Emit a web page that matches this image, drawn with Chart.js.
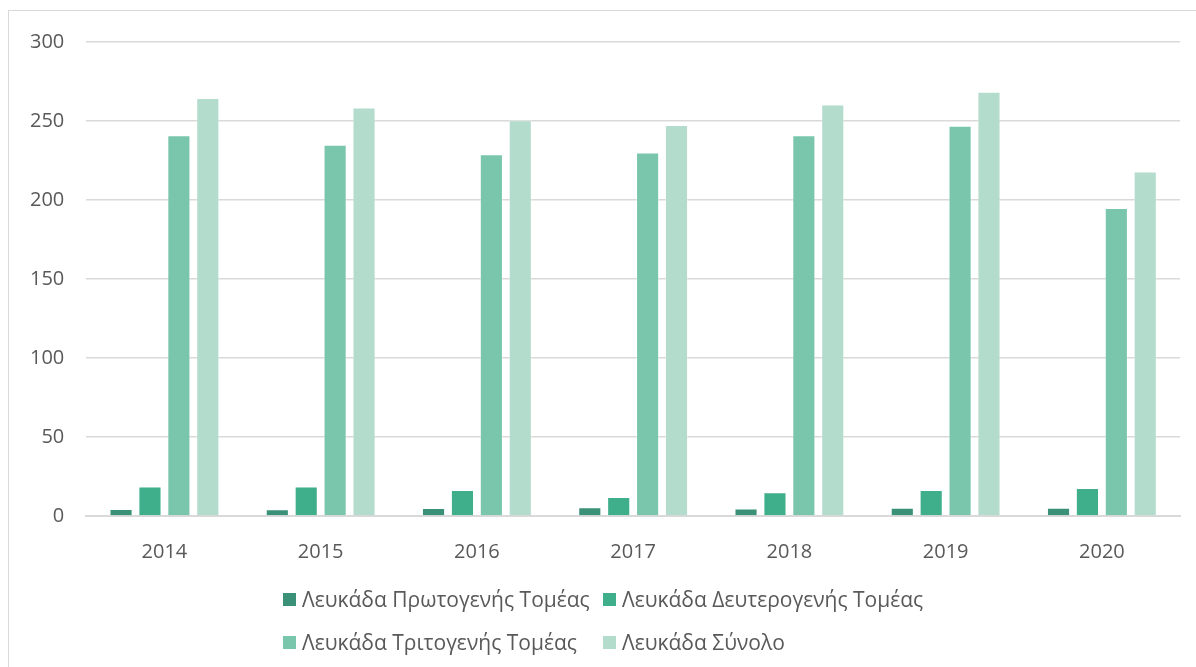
<!DOCTYPE html>
<html>
<head>
<meta charset="utf-8">
<script src="https://cdn.jsdelivr.net/npm/chart.js@4"></script>
<style>
  body { margin: 0; background: #fff; font-family: "Open Sans", sans-serif; }
  #frame { position: absolute; left: 8px; top: 10px; width: 1200px; height: 670px; border: 1px solid #d9d9d9; box-sizing: border-box; }
  #wrap { position: absolute; left: 0; top: 0; width: 1196px; height: 600px; }
  #legend { position: absolute; left: 283px; top: 586px; width: 720px; display: grid; grid-template-columns: 320px 400px; row-gap: 17px; }
  .item { display: flex; align-items: center; font-size: 21px; color: #595959; white-space: nowrap; height: 26px; }
  .box { width: 13px; height: 13px; margin-right: 6px; }
</style>
</head>
<body>
<div id="frame"></div>
<div id="wrap"><canvas id="chart"></canvas></div>
<div id="legend"></div>
<script>
// Δεδομένα
const years = ["2014", "2015", "2016", "2017", "2018", "2019", "2020"];
const seriesNames = ["Λευκάδα Πρωτογενής Τομέας", "Λευκάδα Δευτερογενής Τομέας", "Λευκάδα Τριτογενής Τομέας", "Λευκάδα Σύνολο"];
const primary = [4.5, 4.3, 5, 5.5, 4.8, 5.3, 5.3];
const secondary = [18.6, 18.6, 16.5, 12, 15, 16.5, 17.7];
const tertiary = [241, 235, 229, 230, 241, 247, 195];
const total = [264.5, 258.5, 250.5, 247.5, 260.5, 268.5, 218];
const colors = ["#3a9178", "#3fae8b", "#7ac6ac", "#b3dccd"];
const yTicks = [0, 50, 100, 150, 200, 250, 300];

const allValues = [primary, secondary, tertiary, total];
const tickFont = { family: "'Open Sans', sans-serif", size: 20 };

const datasets = allValues.map((vals, i) => ({
  label: seriesNames[i],
  data: vals,
  backgroundColor: colors[i],
  borderColor: "rgba(255,255,255,0.35)",
  borderWidth: 1,
  categoryPercentage: 0.74,
  barPercentage: 0.8
}));

new Chart(document.getElementById("chart").getContext("2d"), {
  type: "bar",
  data: { labels: years, datasets: datasets },
  options: {
    responsive: true,
    maintainAspectRatio: false,
    animation: false,
    layout: { padding: { left: 8, right: 16, top: 42, bottom: 20 } },
    plugins: {
      legend: { display: false },
      tooltip: { enabled: false }
    },
    scales: {
      x: {
        grid: { display: false },
        border: { color: "#d9d9d9", width: 2 },
        ticks: { color: "#595959", font: tickFont, padding: 16 }
      },
      y: {
        min: yTicks[0],
        max: yTicks[yTicks.length - 1],
        afterBuildTicks: axis => { axis.ticks = yTicks.map(v => ({ value: v })); },
        grid: { color: "#d9d9d9", lineWidth: 1.5, drawTicks: false },
        border: { display: false },
        ticks: { color: "#595959", font: tickFont, padding: 22 }
      }
    }
  }
});

// Υπόμνημα σε δύο σειρές
const legend = document.getElementById("legend");
seriesNames.forEach((name, i) => {
  const item = document.createElement("div");
  item.className = "item";
  const box = document.createElement("span");
  box.className = "box";
  box.style.background = colors[i];
  item.appendChild(box);
  item.appendChild(document.createTextNode(name));
  legend.appendChild(item);
});
</script>
</body>
</html>
